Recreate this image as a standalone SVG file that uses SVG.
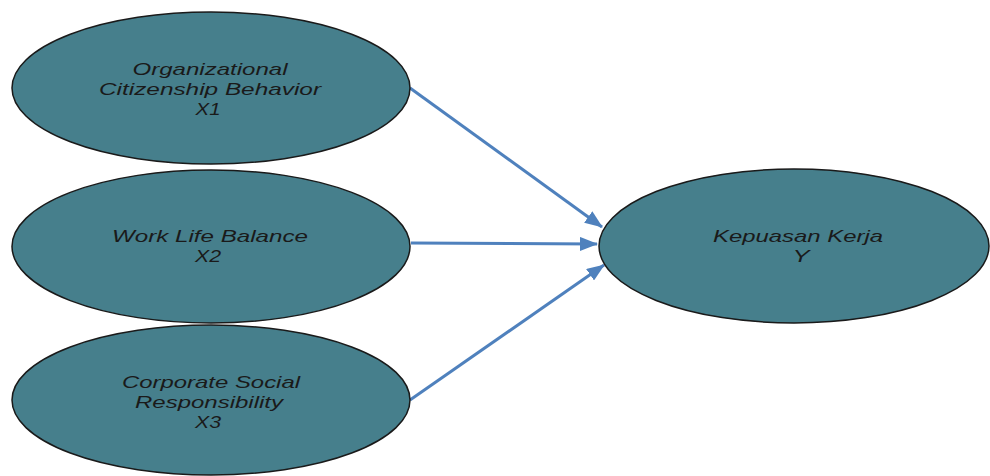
<svg xmlns="http://www.w3.org/2000/svg" width="990" height="476" viewBox="0 0 990 476">
<defs>
<style>
.node{fill:#467F8C;stroke:#1a1a1a;stroke-width:1.5}
.lbl{font-family:"Liberation Sans",Arial,sans-serif;font-style:italic;font-size:17px;fill:#1a1a1a;text-anchor:middle}
.edge{stroke:#4F81BD;stroke-width:3;fill:none}
</style>
<marker id="ah" markerUnits="userSpaceOnUse" markerWidth="18" markerHeight="14" refX="17" refY="7" orient="auto">
<path d="M0,0 L18,7 L0,14 Z" fill="#4F81BD"/>
</marker>
</defs>
<rect width="990" height="476" fill="#ffffff"/>
<g id="connectors">
<line class="edge" x1="410" y1="88" x2="602" y2="227" marker-end="url(#ah)"/>
<line class="edge" x1="411" y1="243" x2="597" y2="244" marker-end="url(#ah)"/>
<line class="edge" x1="410" y1="400" x2="604" y2="265" marker-end="url(#ah)"/>
</g>
<g id="x1">
<ellipse class="node" cx="211" cy="88" rx="199" ry="76"/>
<text class="lbl" x="210" y="75" textLength="155" lengthAdjust="spacingAndGlyphs">Organizational</text>
<text class="lbl" x="210" y="95" textLength="222" lengthAdjust="spacingAndGlyphs">Citizenship Behavior</text>
<text class="lbl" x="208" y="115" textLength="25" lengthAdjust="spacingAndGlyphs">X1</text>
</g>
<g id="x2">
<ellipse class="node" cx="211" cy="246.5" rx="199" ry="76.5"/>
<text class="lbl" x="210" y="242" textLength="196" lengthAdjust="spacingAndGlyphs">Work Life Balance</text>
<text class="lbl" x="208" y="262" textLength="26" lengthAdjust="spacingAndGlyphs">X2</text>
</g>
<g id="x3">
<ellipse class="node" cx="211" cy="400" rx="199" ry="75"/>
<text class="lbl" x="211" y="388" textLength="178" lengthAdjust="spacingAndGlyphs">Corporate Social</text>
<text class="lbl" x="209" y="408" textLength="148" lengthAdjust="spacingAndGlyphs">Responsibility</text>
<text class="lbl" x="208" y="428" textLength="26" lengthAdjust="spacingAndGlyphs">X3</text>
</g>
<g id="y">
<ellipse class="node" cx="794" cy="246" rx="195" ry="77"/>
<text class="lbl" x="798" y="242" textLength="170" lengthAdjust="spacingAndGlyphs">Kepuasan Kerja</text>
<text class="lbl" x="801" y="262" textLength="17" lengthAdjust="spacingAndGlyphs">Y</text>
</g>
</svg>
